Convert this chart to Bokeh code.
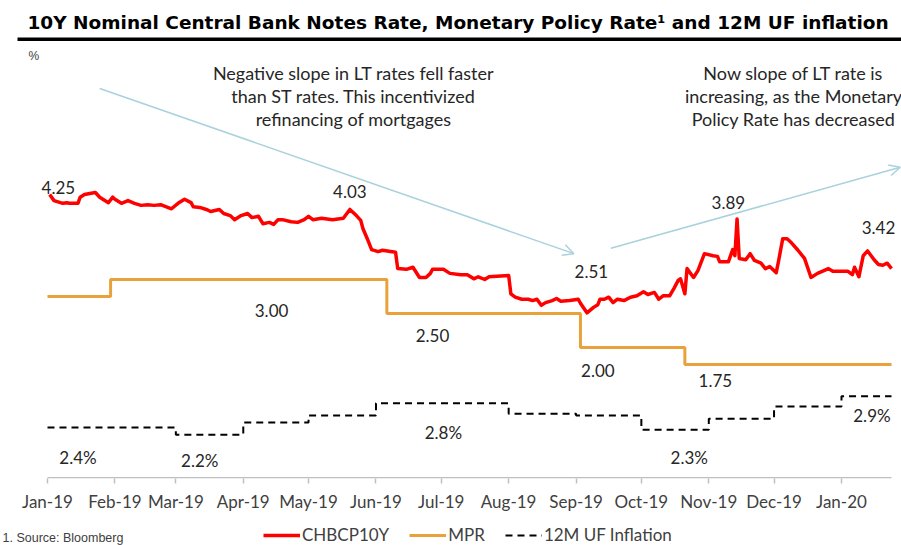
import pandas as pd
from bokeh.plotting import figure
from bokeh.layouts import column
from bokeh.models import (ColumnDataSource, Range1d, Label, Arrow, OpenHead, Legend, LegendItem,
                          DatetimeTickFormatter, MonthsTicker, BoxAnnotation)
from bokeh.core.properties import value
from bokeh.embed import file_html
from bokeh.resources import INLINE

# ---------------- data ----------------
ten_y_dates = [
    "2019-01-02", "2019-01-04", "2019-01-08", "2019-01-10", "2019-01-11", "2019-01-15", "2019-01-16",
    "2019-01-18", "2019-01-23", "2019-01-25", "2019-01-29", "2019-01-31", "2019-02-01", "2019-02-04",
    "2019-02-07", "2019-02-10", "2019-02-13", "2019-02-16", "2019-02-19", "2019-02-22", "2019-02-27",
    "2019-03-02", "2019-03-05", "2019-03-08", "2019-03-09", "2019-03-12", "2019-03-15", "2019-03-17",
    "2019-03-21", "2019-03-23", "2019-03-26", "2019-03-28", "2019-03-31", "2019-04-03", "2019-04-05",
    "2019-04-08", "2019-04-10", "2019-04-13", "2019-04-15", "2019-04-17", "2019-04-19", "2019-04-23",
    "2019-04-26", "2019-04-29", "2019-05-01", "2019-05-03", "2019-05-07", "2019-05-12", "2019-05-17",
    "2019-05-20", "2019-05-23", "2019-05-25", "2019-05-26", "2019-05-28", "2019-05-30", "2019-06-02",
    "2019-06-04", "2019-06-10", "2019-06-11", "2019-06-15", "2019-06-18", "2019-06-21", "2019-06-24",
    "2019-06-26", "2019-06-27", "2019-07-02", "2019-07-05", "2019-07-10", "2019-07-13", "2019-07-16",
    "2019-07-18", "2019-07-21", "2019-07-23", "2019-08-01", "2019-08-02", "2019-08-04", "2019-08-07",
    "2019-08-10", "2019-08-12", "2019-08-14", "2019-08-16", "2019-08-18", "2019-08-21", "2019-08-23",
    "2019-08-25", "2019-08-29", "2019-09-02", "2019-09-03", "2019-09-06", "2019-09-09", "2019-09-11",
    "2019-09-12", "2019-09-14", "2019-09-16", "2019-09-18", "2019-09-20", "2019-09-23", "2019-09-26",
    "2019-09-29", "2019-10-02", "2019-10-04", "2019-10-07", "2019-10-09", "2019-10-11", "2019-10-14",
    "2019-10-16", "2019-10-18", "2019-10-19", "2019-10-21", "2019-10-22", "2019-10-25", "2019-10-27",
    "2019-10-30", "2019-11-03", "2019-11-05", "2019-11-06", "2019-11-10", "2019-11-12", "2019-11-13",
    "2019-11-14", "2019-11-15", "2019-11-18", "2019-11-20", "2019-11-22", "2019-11-25", "2019-11-27",
    "2019-11-29", "2019-12-02", "2019-12-03", "2019-12-05", "2019-12-07", "2019-12-09", "2019-12-12",
    "2019-12-15", "2019-12-18", "2019-12-21", "2019-12-26", "2019-12-28", "2020-01-04", "2020-01-06",
    "2020-01-07", "2020-01-09", "2020-01-11", "2020-01-13", "2020-01-16", "2020-01-18", "2020-01-20",
    "2020-01-22", "2020-01-24",
]
ten_y_values = [
    4.25, 4.16, 4.12, 4.13, 4.12, 4.12, 4.21,
    4.25, 4.28, 4.21, 4.13, 4.21, 4.18, 4.12,
    4.16, 4.12, 4.09, 4.10, 4.09, 4.10, 4.04,
    4.12, 4.18, 4.13, 4.07, 4.06, 4.03, 4.00,
    4.03, 3.97, 3.94, 3.88, 3.94, 3.97, 3.91,
    3.93, 3.82, 3.84, 3.81, 3.88, 3.88, 3.85,
    3.84, 3.88, 3.93, 3.88, 3.90, 3.88, 3.90,
    4.03, 3.94, 3.87, 3.75, 3.60, 3.44, 3.41,
    3.43, 3.40, 3.16, 3.15, 3.18, 3.03, 3.03,
    3.09, 3.15, 3.15, 3.09, 3.07, 3.07, 3.01,
    3.04, 3.00, 3.04, 3.06, 2.79, 2.74, 2.71,
    2.71, 2.69, 2.71, 2.62, 2.66, 2.69, 2.72,
    2.68, 2.69, 2.71, 2.65, 2.51, 2.59, 2.63,
    2.71, 2.71, 2.74, 2.66, 2.71, 2.69, 2.74,
    2.76, 2.82, 2.78, 2.81, 2.71, 2.76, 2.76,
    2.87, 2.99, 3.01, 2.79, 3.16, 3.03, 3.13,
    3.38, 3.35, 3.34, 3.26, 3.26, 3.44, 3.35,
    3.89, 3.31, 3.29, 3.38, 3.28, 3.24, 3.16,
    3.19, 3.10, 3.26, 3.60, 3.60, 3.54, 3.43,
    3.31, 3.03, 3.09, 3.16, 3.12, 3.12, 3.07,
    3.18, 3.04, 3.35, 3.42, 3.29, 3.22, 3.21,
    3.24, 3.16,
]

mpr_dates = ["2019-01-01", "2019-01-30", "2019-06-06", "2019-09-03", "2019-10-21", "2020-01-24"]
mpr_values = [2.75, 3.00, 2.50, 2.00, 1.75, 1.75]

uf_dates = ["2019-01-01", "2019-02-01", "2019-03-01", "2019-04-01", "2019-05-01", "2019-06-01",
            "2019-07-01", "2019-08-01", "2019-09-01", "2019-10-01", "2019-11-01", "2019-12-01",
            "2020-01-01", "2020-01-24"]
uf_values = [2.37, 2.37, 2.24, 2.46, 2.59, 2.81, 2.81, 2.62, 2.59, 2.33, 2.53, 2.75, 2.94, 2.94]

# value call-outs (text, date anchor, y anchor on the rate scale)
rate_label_text = ["4.25", "4.03", "2.51", "3.89", "3.42", "3.00", "2.50", "2.00", "1.75"]
rate_label_dates = ["2019-01-06", "2019-05-20", "2019-09-08", "2019-11-10", "2020-01-18",
                    "2019-04-14", "2019-06-27", "2019-09-11", "2019-11-04"]
rate_label_y = [4.35, 4.29, 3.12, 4.13, 3.76, 2.54, 2.18, 1.66, 1.51]

uf_label_text = ["2.4%", "2.2%", "2.8%", "2.3%", "2.9%"]
uf_label_dates = ["2019-01-15", "2019-03-12", "2019-07-02", "2019-10-23", "2020-01-15"]
uf_label_y = [0.38, 0.34, 0.75, 0.38, 1.00]

series_names = ["CHBCP10Y", "MPR", "12M UF Inflation"]
month_fmt = "%b-%y"
first_day = pd.Timestamp("2019-01-01")
last_day = pd.Timestamp("2020-01-24")

# ---------------- styling ----------------
RED = "#ff0000"
ORANGE = "#e9a23b"
TXT = "#404040"
DARK = "#262626"
ARROW = "#a9d2dc"
RED_W, ORANGE_W, UF_W, UF_DASH = 3.5, 3, 2, "7 5"


def ms(d):
    return pd.Timestamp(d).value // 10**6


# ---------------- main figure ----------------
y_lo, y_hi = 0.0735, 7.1029
p = figure(width=901, height=515, output_backend="svg", toolbar_location=None,
           x_axis_type="datetime", y_axis_location=None,
           x_range=Range1d(first_day - pd.Timedelta(days=21.606), first_day + pd.Timedelta(days=392.59)),
           y_range=Range1d(y_lo, y_hi),
           min_border_left=0, min_border_right=0, min_border_top=0, min_border_bottom=37)
p.extra_y_ranges = {"uf": Range1d(1.4427, 10.1336)}
p.outline_line_color = None
p.xgrid.grid_line_color = None
p.ygrid.grid_line_color = None
p.background_fill_color = "white"
p.border_fill_color = "white"

src_10y = ColumnDataSource(dict(x=pd.to_datetime(ten_y_dates), y=ten_y_values))
src_mpr = ColumnDataSource(dict(x=pd.to_datetime(mpr_dates), y=mpr_values))
src_uf = ColumnDataSource(dict(x=pd.to_datetime(uf_dates), y=uf_values))

# axis base line spanning only the data period
p.segment(x0=[first_day], y0=[y_lo + 0.011], x1=[last_day], y1=[y_lo + 0.011],
          line_color="#bfbfbf", line_width=1.5)

p.step("x", "y", source=src_uf, mode="after", y_range_name="uf",
       line_color="black", line_width=UF_W, line_dash=UF_DASH)
p.step("x", "y", source=src_mpr, mode="after", line_color=ORANGE, line_width=ORANGE_W)
p.line("x", "y", source=src_10y, line_color=RED, line_width=RED_W, line_join="round")

lab_src = ColumnDataSource(dict(x=pd.to_datetime(rate_label_dates + uf_label_dates),
                                y=rate_label_y + uf_label_y,
                                t=rate_label_text + uf_label_text))
p.text("x", "y", text="t", source=lab_src, text_align="center", text_baseline="middle",
       text_font=value("Lato"), text_font_size="17px", text_color=DARK)

ax = p.xaxis[0]
ax.ticker = MonthsTicker(months=list(range(12)))
ax.formatter = DatetimeTickFormatter(months=month_fmt, days=month_fmt)
ax.axis_line_color = None
ax.major_tick_line_color = "#bfbfbf"
ax.major_tick_line_width = 1.5
ax.major_tick_in = 0
ax.major_tick_out = 5
ax.minor_tick_line_color = None
ax.major_label_text_font = "Lato"
ax.major_label_text_font_size = "17px"
ax.major_label_text_color = TXT
ax.major_label_standoff = 7

p.add_layout(Arrow(end=OpenHead(size=11, line_color=ARROW, line_width=1.5),
                   x_start=ms("2019-01-25"), y_start=5.81, x_end=ms("2019-08-31"), y_end=3.38,
                   line_color=ARROW, line_width=1.5))
p.add_layout(Arrow(end=OpenHead(size=11, line_color=ARROW, line_width=1.5),
                   x_start=ms("2019-09-17"), y_start=3.46, x_end=ms("2020-01-28"), y_end=4.65,
                   line_color=ARROW, line_width=1.5))

notes_left = ["Negative slope in LT rates fell faster", "than ST rates. This incentivized",
              "refinancing of mortgages"]
notes_right = ["Now slope of LT rate is", "increasing, as the Monetary", "Policy Rate has decreased"]
for i, t in enumerate(notes_left):
    p.add_layout(Label(x=353, y=406 - 23 * i, x_units="screen", y_units="screen", text=t,
                       text_align="center", text_baseline="middle", text_font="Lato",
                       text_font_size="18px", text_color=DARK))
for i, t in enumerate(notes_right):
    p.add_layout(Label(x=793, y=406 - 23 * i, x_units="screen", y_units="screen", text=t,
                       text_align="center", text_baseline="middle", text_font="Lato",
                       text_font_size="18px", text_color=DARK))

p.add_layout(Label(x=27, y=456.5, x_units="screen", y_units="screen",
                   text="10Y Nominal Central Bank Notes Rate, Monetary Policy Rate¹ and 12M UF inflation",
                   text_align="left", text_baseline="middle", text_font="DejaVu Sans",
                   text_font_style="bold", text_font_size="18.5px", text_color="black"))
p.add_layout(BoxAnnotation(left=17, right=901, top=441, bottom=437.5,
                           left_units="screen", right_units="screen",
                           top_units="screen", bottom_units="screen",
                           fill_color="black", fill_alpha=1, line_color=None))
p.add_layout(Label(x=28, y=423, x_units="screen", y_units="screen", text="%",
                   text_align="left", text_baseline="middle", text_font="Liberation Sans",
                   text_font_size="12px", text_color=TXT))

# ---------------- footer strip: source note + legend ----------------
f = figure(width=901, height=30, output_backend="svg", toolbar_location=None,
           x_axis_location=None, y_axis_location=None,
           x_range=Range1d(0, 1), y_range=Range1d(0, 1),
           min_border_left=0, min_border_right=0, min_border_top=0, min_border_bottom=0)
f.outline_line_color = None
f.xgrid.grid_line_color = None
f.ygrid.grid_line_color = None
f.background_fill_color = "white"
f.border_fill_color = "white"
nan = float("nan")
k_10y = f.line(x=[nan], y=[nan], line_color=RED, line_width=RED_W)
k_mpr = f.line(x=[nan], y=[nan], line_color=ORANGE, line_width=ORANGE_W)
k_uf = f.line(x=[nan], y=[nan], line_color="black", line_width=UF_W, line_dash=UF_DASH)

legend = Legend(items=[LegendItem(label=series_names[0], renderers=[k_10y]),
                       LegendItem(label=series_names[1], renderers=[k_mpr]),
                       LegendItem(label=series_names[2], renderers=[k_uf])],
                orientation="horizontal", location=(263, 0))
legend.border_line_color = None
legend.background_fill_alpha = 0
legend.glyph_width = 37
legend.glyph_height = 18
legend.label_standoff = 2
legend.spacing = 20
legend.padding = 0
legend.margin = 0
legend.label_text_font = "Lato"
legend.label_text_font_size = "17px"
legend.label_text_color = TXT
legend.label_height = 18
f.add_layout(legend)

f.add_layout(Label(x=2, y=8, x_units="screen", y_units="screen", text="1. Source: Bloomberg",
                   text_align="left", text_baseline="middle", text_font="Liberation Sans",
                   text_font_size="12.5px", text_color=TXT))

layout = column(p, f, spacing=0)
open("out.html", "w").write(file_html(layout, INLINE))
